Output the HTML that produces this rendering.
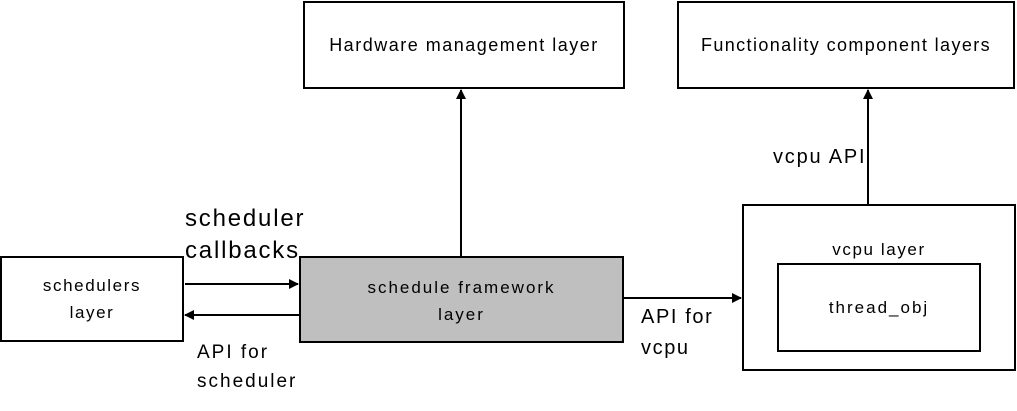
<!DOCTYPE html>
<html><head><style>
body{margin:0;width:1017px;height:411px;background:#fff;position:relative;overflow:hidden;font-family:"Liberation Sans","DejaVu Sans",sans-serif;color:#000}
.b{position:absolute;border:2px solid #000;box-sizing:border-box;display:flex;align-items:center;justify-content:center;text-align:center;font-size:18px;line-height:27px}
.t{position:absolute;white-space:nowrap}
</style></head><body>
<div class="b" style="left:303px;top:1px;width:322px;height:88px;letter-spacing:1.5px">Hardware management layer</div>
<div class="b" style="left:677px;top:1px;width:338px;height:88px;letter-spacing:1.4px">Functionality component layers</div>
<div class="b" style="left:0;top:256px;width:184px;height:86px;font-size:17px;letter-spacing:1.6px">schedulers<br>layer</div>
<div class="b" style="left:299px;top:256px;width:325px;height:87px;background:#bfbfbf;font-size:17px;align-items:flex-start;padding-top:16px;letter-spacing:2px">schedule framework<br>layer</div>
<div class="b" style="left:742px;top:204px;width:274px;height:167px;align-items:flex-start;padding-top:30px;font-size:17px;letter-spacing:1.6px">vcpu layer</div>
<div class="b" style="left:777px;top:263px;width:204px;height:89px;font-size:17px;letter-spacing:2px">thread_obj</div>
<div class="t" style="left:185px;top:203px;font-size:24px;line-height:32px;letter-spacing:1.8px">scheduler<br>callbacks</div>
<div class="t" style="left:197px;top:338px;font-size:19px;line-height:29px;letter-spacing:2px">API for<br>scheduler</div>
<div class="t" style="left:773px;top:146px;font-size:20px;letter-spacing:1.8px">vcpu API</div>
<div class="t" style="left:641px;top:302px;font-size:20px;line-height:31px;letter-spacing:1.6px">API for<br>vcpu</div>
<svg width="1017" height="411" style="position:absolute;left:0;top:0">
<defs><marker id="a" markerWidth="10" markerHeight="10" refX="9" refY="5" orient="auto" markerUnits="userSpaceOnUse"><path d="M0,0 L10,5 L0,10 z" fill="#000"/></marker></defs>
<g stroke="#000" stroke-width="2" fill="none">
<line x1="461" y1="256" x2="461" y2="90" marker-end="url(#a)"/>
<line x1="868" y1="204" x2="868" y2="90" marker-end="url(#a)"/>
<line x1="185" y1="284" x2="298" y2="284" marker-end="url(#a)"/>
<line x1="299" y1="315" x2="185" y2="315" marker-end="url(#a)"/>
<line x1="624" y1="298" x2="741" y2="298" marker-end="url(#a)"/>
</g></svg>
</body></html>
